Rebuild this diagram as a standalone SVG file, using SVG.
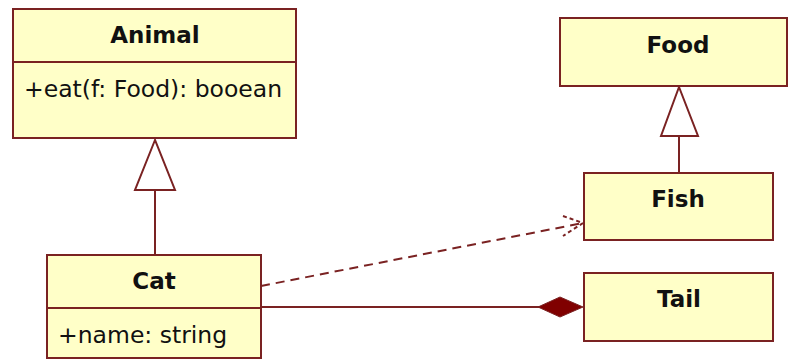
<svg xmlns="http://www.w3.org/2000/svg" width="789" height="360" viewBox="0 0 789 360">
<style>
.box{fill:#ffffc8;stroke:#7a2222;stroke-width:2}
.ln{stroke:#7a2222;stroke-width:2;fill:none}
.dash{stroke:#7a2222;stroke-width:2;fill:none;stroke-dasharray:9 6}
.tri{fill:#ffffff;stroke:#7a2222;stroke-width:2}
.t{font-family:"DejaVu Sans",Verdana,sans-serif;font-size:23.5px;fill:#111}
.b{font-weight:bold;text-anchor:middle;font-size:23px}
</style>
<rect width="789" height="360" fill="#ffffff"/>
<g id="connectors">
<line class="ln" x1="155" y1="190" x2="155" y2="255"/>
<polygon class="tri" points="155,140 135,190 175,190"/>
<line class="ln" x1="679" y1="136" x2="679" y2="173"/>
<polygon class="tri" points="679,87 661,136 698,136"/>
<line class="dash" x1="261" y1="286" x2="583" y2="223"/>
<path class="ln" d="M563,216 L583,223 L563,236" stroke-dasharray="4 3"/>
<line class="ln" x1="261" y1="307" x2="540" y2="307"/>
<polygon points="538,307 560,297 583,307 560,317" fill="#800000" stroke="#7a2222" stroke-width="1"/>
</g>
<g id="Animal">
<rect class="box" x="13" y="9" width="283" height="129"/>
<line class="ln" x1="13" y1="62" x2="296" y2="62"/>
<text class="t b" x="155" y="43">Animal</text>
<text class="t" x="24" y="97">+eat(f: Food): booean</text>
</g>
<g id="Cat">
<rect class="box" x="47" y="255" width="214" height="103"/>
<line class="ln" x1="47" y1="308" x2="261" y2="308"/>
<text class="t b" x="154" y="289">Cat</text>
<text class="t" x="58" y="343">+name: string</text>
</g>
<g id="Food">
<rect class="box" x="560" y="18" width="227" height="68"/>
<text class="t b" x="678" y="53">Food</text>
</g>
<g id="Fish">
<rect class="box" x="584" y="173" width="189" height="67"/>
<text class="t b" x="678" y="207">Fish</text>
</g>
<g id="Tail">
<rect class="box" x="584" y="273" width="189" height="68"/>
<text class="t b" x="679" y="307">Tail</text>
</g>
</svg>
